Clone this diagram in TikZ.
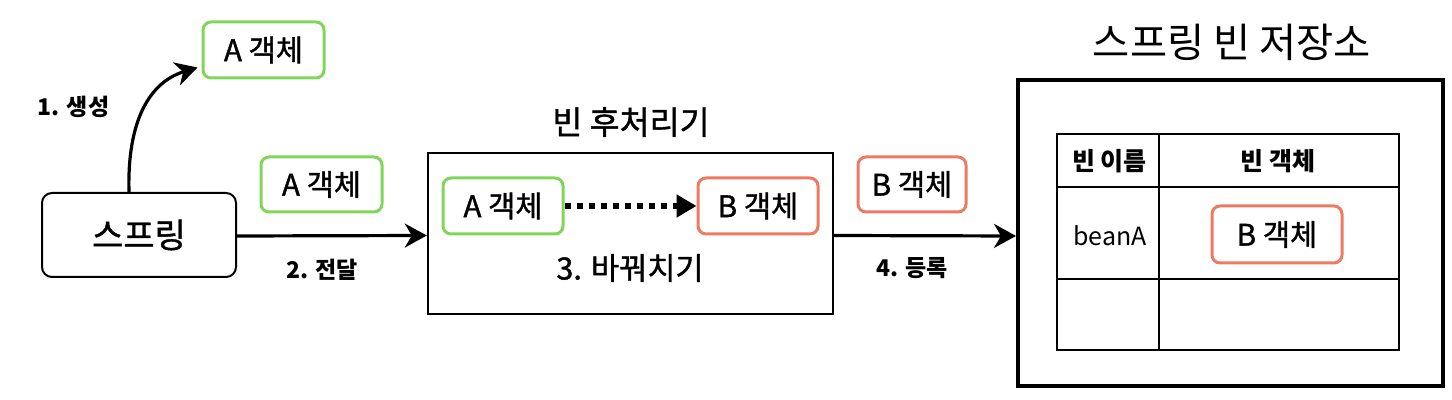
\documentclass[tikz,border=0pt]{standalone}
\usepackage{fontspec}
\setmainfont{Noto Sans CJK KR}
\newfontfamily\medfont[FakeBold=1.2]{Noto Sans CJK KR}
\usetikzlibrary{arrows.meta}
\definecolor{gbox}{HTML}{7FD65A}
\definecolor{rbox}{HTML}{EF7A62}
\tikzset{
  objbox/.style={draw=#1, line width=1.5pt, rounded corners=4pt, minimum height=27.5pt, inner sep=0pt, font=\medfont\fontsize{14.8}{16}\selectfont},
  blackarrow/.style={line width=1.6pt, -{Stealth[length=11pt,width=12pt,inset=3.5pt]}},
  lbl/.style={font=\fontsize{11.5}{13}\selectfont\bfseries, inner sep=0pt},
  hdr/.style={font=\fontsize{12.5}{14}\selectfont\bfseries, inner sep=0pt},
}
\begin{document}
\begin{tikzpicture}[x=0.5pt,y=-0.5pt]
\useasboundingbox (0,0) rectangle (1452,400);
% spring
\node[draw, line width=1pt, rounded corners=5pt, minimum width=97pt, minimum height=42pt, inner sep=0pt, font=\medfont\fontsize{17}{19}\selectfont] (spring) at (139,235) {스프링};
\node[objbox=gbox, minimum width=60.5pt, minimum height=28pt] (topA) at (263.5,50) {A 객체};
\node[objbox=gbox, minimum width=60.5pt] (midA) at (321.5,184.5) {A 객체};
% bean post processor
\node[draw, line width=1.2pt, minimum width=202.5pt, minimum height=80.5pt, inner sep=0pt] (bpp) at (630.5,233.5) {};
\node[font=\medfont\fontsize{16.3}{18}\selectfont, inner sep=0pt] (bpptitle) at (631,122) {빈 후처리기};
\node[objbox=gbox, minimum width=60pt, minimum height=28pt] (inA) at (503,206) {A 객체};
\node[objbox=rbox, minimum width=60pt, minimum height=28pt] (inB) at (758,206) {B 객체};
\node[font=\medfont\fontsize{15.3}{17}\selectfont, inner sep=0pt] (swap) at (630,268) {3. 바꿔치기};
\node[objbox=rbox, minimum width=54pt] (outB) at (912,184.5) {B 객체};
% storage
\node[draw, line width=2pt, minimum width=212.5pt, minimum height=153pt, inner sep=0pt] (store) at (1230.5,233) {};
\node[font=\fontsize{20.2}{22}\selectfont, inner sep=0pt] (storetitle) at (1232,42) {스프링 빈 저장소};
% table
\draw[line width=0.8pt] (1057,134) rectangle (1399,350);
\draw[line width=1.1pt] (1057,187) -- (1399,187);
\draw[line width=0.6pt] (1057,279) -- (1399,279);
\draw[line width=0.6pt] (1159,134) -- (1159,350);
\node[hdr] (h1) at (1109.5,161) {빈 이름};
\node[hdr] (h2) at (1278,161) {빈 객체};
\node[font=\fontsize{12.5}{14}\selectfont, inner sep=0pt] (beanA) at (1110,236) {beanA};
\node[objbox=rbox, minimum width=65pt, minimum height=28.5pt] (tB) at (1277,234.5) {B 객체};
% labels
\node[lbl] (l1) at (73.5,107) {1. 생성};
\node[lbl] (l2) at (322,270) {2. 전달};
\node[lbl] (l4) at (912,268) {4. 등록};
% arrows
\draw[blackarrow] ([xshift=-5pt]spring.north) .. controls (127,120) and (150,82) .. ([yshift=6pt,xshift=-2pt]topA.south west);
\draw[blackarrow] ([yshift=-0.5pt]spring.east) -- ([yshift=-1pt]bpp.west);
\draw[blackarrow] ([yshift=-1pt]bpp.east) -- ([yshift=-1.5pt]store.west);
\draw[line width=3pt, dash pattern=on 3pt off 3pt, -{Triangle[length=10pt,width=11pt]}] (inA.east) -- (inB.west);
\end{tikzpicture}
\end{document}
